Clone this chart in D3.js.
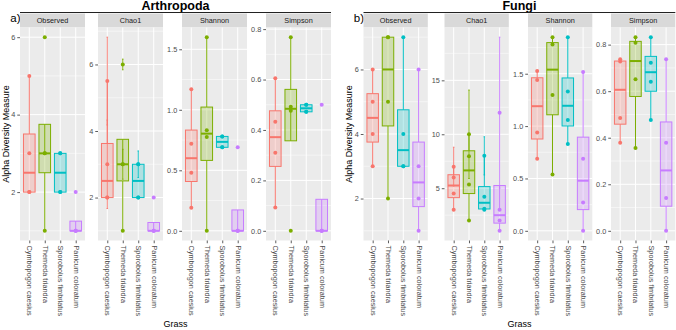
<!DOCTYPE html>
<html><head><meta charset="utf-8">
<script src="https://cdn.jsdelivr.net/npm/d3@7"></script>
<style>body{margin:0;background:#fff}svg{display:block}text{font-family:"Liberation Sans",Arial,sans-serif}</style>
</head><body><svg id="c" width="676" height="330"></svg>
<script>
const grasses = ["Cymbopogon caesius","Themeda triandra","Sporobolus fimbriatus","Panicum coloratum"];
const measures = ["Observed","Chao1","Shannon","Simpson"];
const colors = ["#F8766D","#7CAE00","#00BFC4","#C77CFF"];

// Arthropoda (per grass, sample values)
const arthObserved = [[2,2,3,5],[1,3,3,6],[2,2,3,3],[1,1,1,2]];
const arthChao1    = [[2,2,3,5.5],[1,3,3,6],[2,2,3,3],[1,1,1,2]];
const arthChao1SE  = [[0,0,1.33,1.32],[0,0.45,0,0.16],[0,0,0.4,0],[0,0,0,0]];
const arthShannon  = [[0.19,0.48,0.72,1.17],[0,0.776,0.83,1.6],[0.69,0.69,0.78,0.78],[0,0,0,0.69]];
const arthSimpson  = [[0.092,0.31,0.433,0.605],[0,0.476,0.492,0.768],[0.472,0.472,0.5,0.5],[0,0,0,0.5]];
const arthTicks    = [[2,4,6],[2,4,6],[0,0.5,1,1.5],[0,0.2,0.4,0.6,0.8]];

// Fungi
const fungObserved = [[3,4,5,6],[2,5,7,7],[3,3,4,7],[1,2,3,6]];
const fungChao1    = [[3,4.5,6,7],[2,5.34,7.96,10],[3,3.1,4.2,8],[1.05,2,3,12]];
const fungChao1SE  = [[0,0,0,1.8],[0,0,0,4.1],[0,0,0,1.77],[0,0,0,7]];
const fungShannon  = [[0.687,0.94,1.44,1.526],[0.538,1.298,1.78,1.849],[0.83,1.058,1.33,1.849],[0,0.27,0.687,1.517]];
const fungSimpson  = [[0.378,0.485,0.727,0.737],[0.356,0.651,0.808,0.832],[0.476,0.641,0.722,0.832],[0,0.141,0.378,0.737]];
const fungTicks    = [[2,4,6],[5,10,15],[0,0.5,1,1.5],[0,0.2,0.4,0.6,0.8]];

const groups = [
  {title:"Arthropoda", tag:"a)", lefts:[20,98,182,266], w:65, ytx:5.5,
   values:[arthObserved,arthChao1,arthShannon,arthSimpson], se:[null,arthChao1SE,null,null], ticks:arthTicks},
  {title:"Fungi", tag:"b)", lefts:[363.5,444.5,528,611], w:64.3, ytx:349,
   values:[fungObserved,fungChao1,fungShannon,fungSimpson], se:[null,fungChao1SE,null,null], ticks:fungTicks}
];

const svg = d3.select("#c");
const panelTop = 27.5, panelBottom = 240.5, stripTop = 13.5;

function boxStats(vals){
  const s = vals.slice().sort(d3.ascending);
  const q1 = d3.quantile(s,0.25), med = d3.quantile(s,0.5), q3 = d3.quantile(s,0.75);
  const iqr = q3-q1, lo = q1-1.5*iqr, hi = q3+1.5*iqr;
  return {q1, med, q3, wlo:d3.min(s.filter(v=>v>=lo)), whi:d3.max(s.filter(v=>v<=hi))};
}

groups.forEach(G=>{
  const x0 = G.lefts[0], x1 = G.lefts[3]+G.w, cx = (x0+x1)/2;
  svg.append("text").attr("x",cx).attr("y",10.3).attr("text-anchor","middle")
    .attr("font-size",12.5).attr("font-weight","bold").attr("fill","#000").text(G.title);
  svg.append("line").attr("x1",x0).attr("x2",x1).attr("y1",12.5).attr("y2",12.5)
    .attr("stroke","#222").attr("stroke-width",1);
  svg.append("text").attr("x",x0+0.5).attr("y",21.5).attr("text-anchor","end")
    .attr("font-size",11.5).attr("fill","#000").text(G.tag);
  svg.append("text").attr("transform",`translate(${G.ytx},134) rotate(-90)`).attr("dy","0.35em")
    .attr("text-anchor","middle").attr("font-size",9).attr("fill","#000").text("Alpha Diversity Measure");
  svg.append("text").attr("x",cx).attr("y",327).attr("text-anchor","middle")
    .attr("font-size",9).attr("fill","#000").text("Grass");

  measures.forEach((m,mi)=>{
    const left = G.lefts[mi], w = G.w;
    const vals = G.values[mi], se = G.se[mi];
    const g = svg.append("g");
    let all = [];
    vals.forEach((arr,gi)=>arr.forEach((v,k)=>{ all.push(v); if(se&&se[gi][k]>0){all.push(v-se[gi][k],v+se[gi][k]);} }));
    const lo = d3.min(all), hi = d3.max(all), pad = (hi-lo)*0.05;
    const y = d3.scaleLinear().domain([lo-pad,hi+pad]).range([panelBottom,panelTop]);
    const x = d3.scalePoint().domain(grasses).range([left,left+w]).padding(0.6);
    const step = x.step();
    g.append("rect").attr("x",left).attr("y",stripTop).attr("width",w).attr("height",panelTop-stripTop).attr("fill","#D9D9D9");
    g.append("text").attr("x",left+w/2).attr("y",23).attr("text-anchor","middle").attr("font-size",7.3).attr("fill","#1A1A1A").text(m);
    g.append("rect").attr("x",left).attr("y",panelTop).attr("width",w).attr("height",panelBottom-panelTop).attr("fill","#EBEBEB");
    const ticks = G.ticks[mi];
    const d = ticks[1]-ticks[0];
    const minor = [];
    const dom = y.domain();
    for(let t=ticks[0]-d/2; t<=ticks[ticks.length-1]+d/2+1e-9; t+=d){ if(t>=dom[0]&&t<=dom[1]) minor.push(t); }
    g.selectAll(".mn").data(minor).join("line").attr("x1",left).attr("x2",left+w)
      .attr("y1",t=>y(t)).attr("y2",t=>y(t)).attr("stroke","#fff").attr("stroke-width",0.5);
    g.selectAll(".mj").data(ticks).join("line").attr("x1",left).attr("x2",left+w)
      .attr("y1",t=>y(t)).attr("y2",t=>y(t)).attr("stroke","#fff").attr("stroke-width",1);
    g.selectAll(".vx").data(grasses).join("line").attr("x1",c=>x(c)).attr("x2",c=>x(c))
      .attr("y1",panelTop).attr("y2",panelBottom).attr("stroke","#fff").attr("stroke-width",1);
    const fmt = (m==="Shannon"||m==="Simpson") ? d3.format(".1f") : d3.format("d");
    const ya = d3.axisLeft(y).tickValues(ticks).tickFormat(fmt).tickSize(2.75).tickPadding(2);
    const yg = g.append("g").attr("transform",`translate(${left},0)`).call(ya);
    yg.select(".domain").remove();
    yg.selectAll("line").attr("stroke","#333").attr("stroke-width",0.8);
    yg.selectAll("text").attr("font-size",7.3).attr("fill","#4D4D4D").attr("font-family","Liberation Sans, Arial, sans-serif");
    const xa = d3.axisBottom(x).tickSize(2.75).tickPadding(2);
    const xg = g.append("g").attr("transform",`translate(0,${panelBottom})`).call(xa);
    xg.select(".domain").remove();
    xg.selectAll("line").attr("stroke","#333").attr("stroke-width",0.8);
    xg.selectAll("text").attr("font-size",7.3).attr("fill","#4D4D4D").attr("font-family","Liberation Sans, Arial, sans-serif")
      .attr("transform","rotate(90)").attr("text-anchor","start").attr("x",5).attr("y",0).attr("dy","0.35em");
    vals.forEach((arr,gi)=>{
      const px = x(grasses[gi]), col = colors[gi];
      arr.forEach((v,k)=>{
        if(se && se[gi][k]>0){
          const s = se[gi][k], cw = step*0.05;
          g.append("path").attr("d",`M${px-cw},${y(v+s)}H${px+cw}M${px},${y(v+s)}V${y(v-s)}M${px-cw},${y(v-s)}H${px+cw}`)
            .attr("stroke",col).attr("stroke-width",0.9).attr("fill","none");
        }
        g.append("circle").attr("cx",px).attr("cy",y(v)).attr("r",2).attr("fill",col);
      });
    });
    vals.forEach((arr,gi)=>{
      const b = boxStats(arr), px = x(grasses[gi]), col = colors[gi], bw = step*0.75;
      g.append("line").attr("x1",px).attr("x2",px).attr("y1",y(b.q3)).attr("y2",y(b.whi)).attr("stroke",col).attr("stroke-width",1);
      g.append("line").attr("x1",px).attr("x2",px).attr("y1",y(b.q1)).attr("y2",y(b.wlo)).attr("stroke",col).attr("stroke-width",1);
      g.append("rect").attr("x",px-bw/2).attr("y",y(b.q3)).attr("width",bw).attr("height",Math.max(0,y(b.q1)-y(b.q3)))
        .attr("fill",col).attr("fill-opacity",0.25).attr("stroke",col).attr("stroke-width",1);
      g.append("line").attr("x1",px-bw/2).attr("x2",px+bw/2).attr("y1",y(b.med)).attr("y2",y(b.med)).attr("stroke",col).attr("stroke-width",2);
    });
  });
});
</script></body></html>
